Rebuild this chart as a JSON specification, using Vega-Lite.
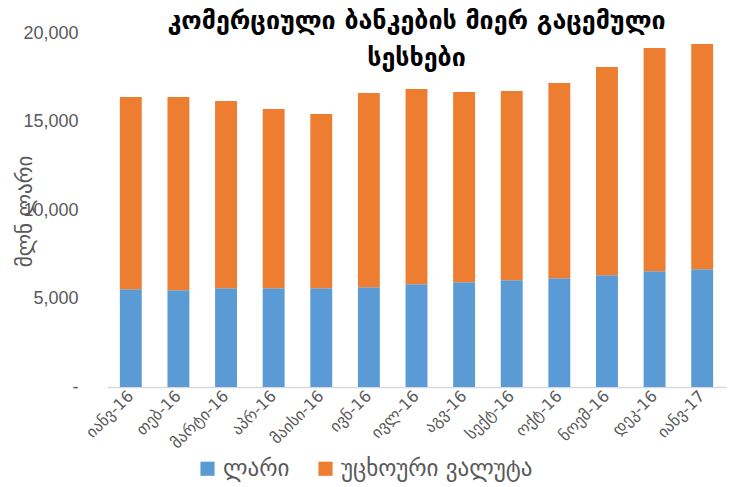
{
  "$schema": "https://vega.github.io/schema/vega-lite/v6.json",
  "width": 619,
  "height": 354,
  "autosize": {"type": "none"},
  "padding": {"left": 107, "top": 33, "right": 10, "bottom": 100},
  "background": "white",
  "title": {
    "text": ["კომერციული ბანკების მიერ გაცემული", "სესხები"],
    "anchor": "middle",
    "frame": "group",
    "offset": -47,
    "font": "DejaVu Sans",
    "fontSize": 25,
    "fontWeight": "bold",
    "color": "#000000",
    "lineHeight": 37
  },
  "data": {
    "values": [
      {"month": "იანვ-16", "type": "ლარი", "value": 5516},
      {"month": "იანვ-16", "type": "უცხოური ვალუტა", "value": 10864},
      {"month": "თებ-16", "type": "ლარი", "value": 5460},
      {"month": "თებ-16", "type": "უცხოური ვალუტა", "value": 10920},
      {"month": "მარტი-16", "type": "ლარი", "value": 5573},
      {"month": "მარტი-16", "type": "უცხოური ვალუტა", "value": 10580},
      {"month": "აპრ-16", "type": "ლარი", "value": 5573},
      {"month": "აპრ-16", "type": "უცხოური ვალუტა", "value": 10127},
      {"month": "მაისი-16", "type": "ლარი", "value": 5573},
      {"month": "მაისი-16", "type": "უცხოური ვალუტა", "value": 9845},
      {"month": "ივნ-16", "type": "ლარი", "value": 5630},
      {"month": "ივნ-16", "type": "უცხოური ვალუტა", "value": 10976},
      {"month": "ივლ-16", "type": "ლარი", "value": 5799},
      {"month": "ივლ-16", "type": "უცხოური ვალუტა", "value": 11033},
      {"month": "აგვ-16", "type": "ლარი", "value": 5912},
      {"month": "აგვ-16", "type": "უცხოური ვალუტა", "value": 10750},
      {"month": "სექტ-16", "type": "ლარი", "value": 6025},
      {"month": "სექტ-16", "type": "უცხოური ვალუტა", "value": 10694},
      {"month": "ოქტ-16", "type": "ლარი", "value": 6139},
      {"month": "ოქტ-16", "type": "უცხოური ვალუტა", "value": 11033},
      {"month": "ნოემ-16", "type": "ლარი", "value": 6308},
      {"month": "ნოემ-16", "type": "უცხოური ვალუტა", "value": 11769},
      {"month": "დეკ-16", "type": "ლარი", "value": 6535},
      {"month": "დეკ-16", "type": "უცხოური ვალუტა", "value": 12617},
      {"month": "იანვ-17", "type": "ლარი", "value": 6648},
      {"month": "იანვ-17", "type": "უცხოური ვალუტა", "value": 12730}
    ]
  },
  "mark": {"type": "bar"},
  "encoding": {
    "x": {
      "field": "month",
      "type": "nominal",
      "sort": null,
      "scale": {"paddingInner": 0.54, "paddingOuter": 0.27},
      "axis": {
        "title": null,
        "labelAngle": -45,
        "labelAlign": "right",
        "labelBaseline": "middle",
        "labelFont": "DejaVu Sans",
        "labelFontSize": 16,
        "labelColor": "#595959",
        "labelPadding": 6,
        "ticks": false,
        "domainColor": "#d9d9d9",
        "domainWidth": 1.5
      }
    },
    "y": {
      "field": "value",
      "type": "quantitative",
      "stack": "zero",
      "scale": {"domain": [0, 20000], "nice": false},
      "axis": {
        "title": "მლნ ლარი",
        "titleFont": "DejaVu Sans",
        "titleFontSize": 21,
        "titleFontWeight": "normal",
        "titleColor": "#595959",
        "titleX": -82,
        "titleY": 178,
        "titleAlign": "center",
        "titleBaseline": "middle",
        "titleAngle": -90,
        "values": [0, 5000, 10000, 15000, 20000],
        "labelExpr": "datum.value == 0 ? '-' : format(datum.value, ',')",
        "labelFont": "Liberation Sans",
        "labelFontSize": 18,
        "labelColor": "#595959",
        "labelPadding": 29,
        "ticks": false,
        "domain": false,
        "grid": false
      }
    },
    "order": {"field": "type", "type": "nominal", "sort": "ascending"},
    "color": {
      "field": "type",
      "type": "nominal",
      "scale": {"domain": ["ლარი", "უცხოური ვალუტა"], "range": ["#5B9BD5", "#ED7D31"]},
      "legend": {
        "title": null,
        "orient": "none",
        "direction": "horizontal",
        "legendX": 89,
        "legendY": 424,
        "symbolType": "square",
        "symbolSize": 200,
        "symbolStrokeWidth": 0,
        "labelFont": "DejaVu Sans",
        "labelFontSize": 23,
        "labelColor": "#595959",
        "labelLimit": 400,
        "columnPadding": 24
      }
    }
  },
  "config": {"view": {"stroke": null}}
}
